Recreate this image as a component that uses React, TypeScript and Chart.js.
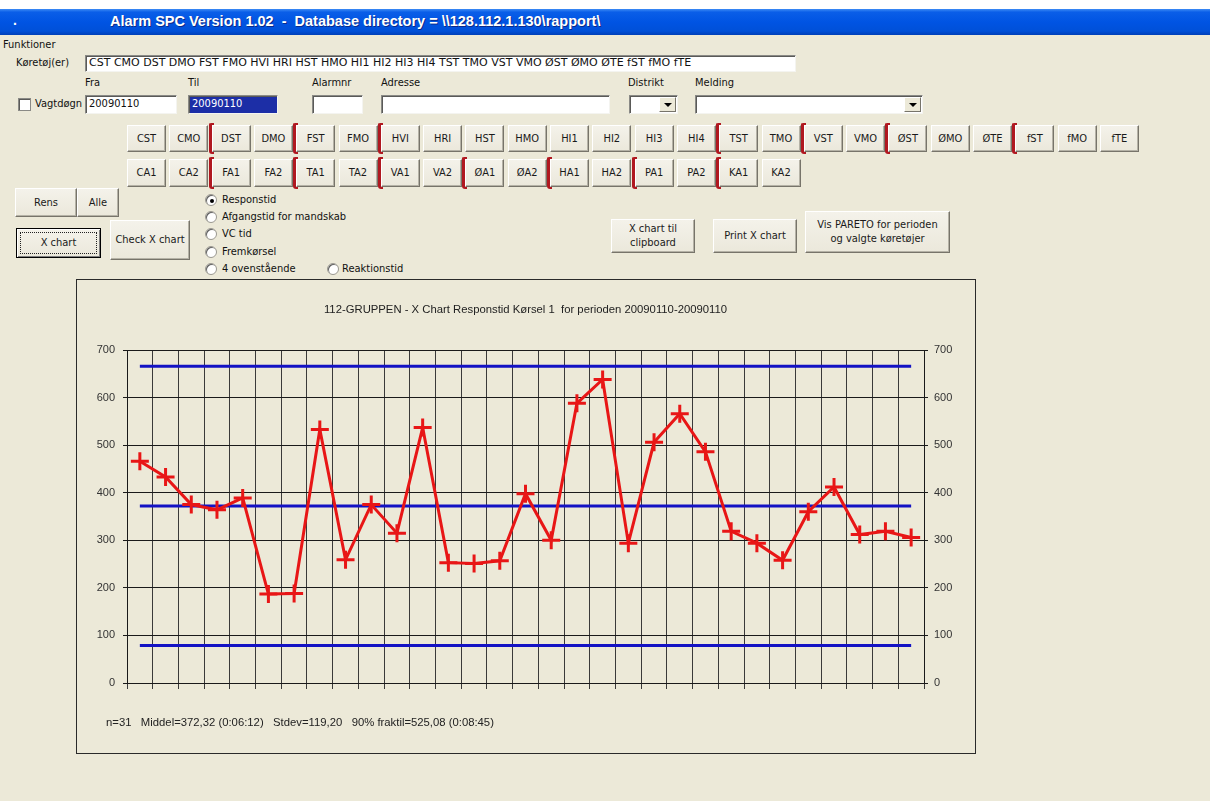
import React, { useEffect, useRef } from "react";
import { Chart, registerables } from "chart.js";

Chart.register(...registerables);

// ---------- chart data ----------
const sampleLabels = [
  "1", "2", "3", "4", "5", "6", "7", "8", "9", "10", "11", "12", "13", "14", "15", "16",
  "17", "18", "19", "20", "21", "22", "23", "24", "25", "26", "27", "28", "29", "30", "31",
];
const responseTimes = [
  466, 433, 375, 364, 389, 187, 188, 533, 259, 375, 315, 537, 253, 251, 257, 398,
  300, 588, 638, 294, 506, 566, 486, 319, 294, 258, 360, 412, 312, 319, 306,
];
const centerLine = 372.32;
const upperLimit = 666;
const lowerLimit = 78.6;
const yMin = 0;
const yMax = 700;
const yStep = 100;

const chartTitle = "112-GRUPPEN - X Chart Responstid Kørsel 1  for perioden 20090110-20090110";
const statsLine = "n=31   Middel=372,32 (0:06:12)   Stdev=119,20   90% fraktil=525,08 (0:08:45)";

// ---------- form content ----------
const windowTitle = "Alarm SPC Version 1.02  -  Database directory = \\\\128.112.1.130\\rapport\\";
const vehicleList = "CST CMO DST DMO FST FMO HVI HRI HST HMO HI1 HI2 HI3 HI4 TST TMO VST VMO ØST ØMO ØTE fST fMO fTE";
const vehicleRow1 = ["CST", "CMO", "DST", "DMO", "FST", "FMO", "HVI", "HRI", "HST", "HMO", "HI1", "HI2", "HI3", "HI4", "TST", "TMO", "VST", "VMO", "ØST", "ØMO", "ØTE", "fST", "fMO", "fTE"];
const bracketRow1 = [2, 4, 6, 14, 16, 18, 21];
const vehicleRow2 = ["CA1", "CA2", "FA1", "FA2", "TA1", "TA2", "VA1", "VA2", "ØA1", "ØA2", "HA1", "HA2", "PA1", "PA2", "KA1", "KA2"];
const bracketRow2 = [2, 4, 6, 8, 10, 12, 14];
const radioLabels = ["Responstid", "Afgangstid for mandskab", "VC tid", "Fremkørsel", "4 ovenstående"];

const BG = "#ECE9D8";
const UI_FONT = '"DejaVu Sans Condensed", "DejaVu Sans", Verdana, sans-serif';
const WIDE_FONT = '"DejaVu Sans", Verdana, sans-serif';
const CHART_FONT = '"Liberation Sans", Arial, sans-serif';

const abs = (x: number, y: number, w: number, h: number): React.CSSProperties => ({
  position: "absolute",
  left: x,
  top: y,
  width: w,
  height: h,
  boxSizing: "border-box",
});

function Btn(props: { x: number; y: number; w: number; h: number; children: React.ReactNode; focused?: boolean }) {
  const { x, y, w, h, children, focused } = props;
  return (
    <div
      style={{
        ...abs(x, y, w, h),
        background: "linear-gradient(#f4f2ea, #ebe8db)",
        borderStyle: "solid",
        borderWidth: 1,
        borderColor: focused ? "#000" : "#fff #77746a #77746a #fff",
        boxShadow: focused ? "inset 1px 1px 0 #fff, inset -1px -1px 0 #808080" : "inset -1px -1px 0 #b5b2a6",
        display: "flex",
        alignItems: "center",
        justifyContent: "center",
        textAlign: "center",
        lineHeight: "14px",
        fontSize: 11,
        color: "#1a1a1a",
      }}
    >
      {focused ? (
        <div style={{ position: "absolute", left: 3, top: 3, right: 3, bottom: 3, border: "1px dotted #222" }} />
      ) : null}
      <span>{children}</span>
    </div>
  );
}

function Bracket(props: { x: number; y: number; h: number }) {
  const { x, y, h } = props;
  return (
    <div
      style={{
        ...abs(x, y, 5, h),
        borderLeft: "3px solid #b01820",
        borderTop: "2px solid #b01820",
        borderBottom: "2px solid #b01820",
        borderRadius: "2px 0 0 3px",
      }}
    />
  );
}

function Sunken(props: { x: number; y: number; w: number; h: number; bg?: string; children?: React.ReactNode; color?: string; font?: string }) {
  const { x, y, w, h, bg, children, color, font } = props;
  return (
    <div
      style={{
        ...abs(x, y, w, h),
        background: bg || "#fff",
        borderStyle: "solid",
        borderWidth: 1,
        borderColor: "#8a8a86 #f4f4f0 #f4f4f0 #8a8a86",
        boxShadow: "inset 1px 1px 0 #5a5a58",
        fontSize: 11,
        fontFamily: font || UI_FONT,
        lineHeight: `${h - 3}px`,
        paddingLeft: 3,
        whiteSpace: "pre",
        overflow: "hidden",
        color: color || "#111",
      }}
    >
      {children}
    </div>
  );
}

function Combo(props: { x: number; y: number; w: number; h: number }) {
  const { x, y, w, h } = props;
  return (
    <div style={abs(x, y, w, h)}>
      <Sunken x={0} y={0} w={w} h={h} />
      <div
        style={{
          ...abs(w - 19, 2, 17, h - 4),
          background: BG,
          borderStyle: "solid",
          borderWidth: 1,
          borderColor: "#fff #77746a #77746a #fff",
        }}
      >
        <div
          style={{
            position: "absolute",
            left: 4,
            top: (h - 4) / 2 - 3,
            width: 0,
            height: 0,
            borderLeft: "4px solid transparent",
            borderRight: "4px solid transparent",
            borderTop: "4px solid #000",
          }}
        />
      </div>
    </div>
  );
}

function Radio(props: { x: number; y: number; label: string; checked?: boolean; labelX?: number }) {
  const { x, y, label, checked, labelX } = props;
  return (
    <>
      <div
        style={{
          ...abs(x, y - 6, 12, 12),
          borderRadius: "50%",
          background: "#fff",
          border: "1px solid #9a9890",
          boxShadow: "inset 1px 1px 0 #606060",
        }}
      >
        {checked ? (
          <div style={{ ...abs(3.5, 3.5, 4, 4), borderRadius: "50%", background: "#000" }} />
        ) : null}
      </div>
      <div style={{ position: "absolute", left: labelX ?? x + 15, top: y - 7, fontSize: 11, lineHeight: "14px", whiteSpace: "pre" }}>
        {label}
      </div>
    </>
  );
}

function Label(props: { x: number; y: number; children: React.ReactNode }) {
  return (
    <div style={{ position: "absolute", left: props.x, top: props.y - 7, fontSize: 11, lineHeight: "14px", whiteSpace: "pre", color: "#111" }}>
      {props.children}
    </div>
  );
}

const textPlugin = {
  id: "xchartTexts",
  afterDraw(chart: any) {
    const { ctx, chartArea } = chart;
    ctx.save();
    ctx.font = `11.3px ${CHART_FONT}`;
    ctx.fillStyle = "#222";
    ctx.textBaseline = "middle";
    ctx.textAlign = "center";
    ctx.fillText(chartTitle, (chartArea.left + chartArea.right) / 2, chartArea.top - 40);
    ctx.textAlign = "left";
    ctx.fillText(statsLine, chartArea.left - 21, chartArea.bottom + 40);
    ctx.restore();
  },
};

function XChart() {
  const ref = useRef<HTMLCanvasElement | null>(null);
  useEffect(() => {
    if (!ref.current) return;
    const first = sampleLabels[0];
    const last = sampleLabels[sampleLabels.length - 1];
    const limitLine = (v: number) => ({
      data: [
        { x: first, y: v },
        { x: last, y: v },
      ],
      borderColor: "#1212c4",
      borderWidth: 3,
      pointRadius: 0,
      fill: false,
      order: 2,
    });
    const chart = new Chart(ref.current, {
      type: "line",
      data: {
        labels: sampleLabels,
        datasets: [
          {
            data: responseTimes,
            borderColor: "#e81616",
            borderWidth: 3,
            pointStyle: "cross",
            pointRadius: 9,
            pointBorderWidth: 3,
            pointBorderColor: "#e81616",
            tension: 0,
            fill: false,
            order: 0,
          } as any,
          limitLine(upperLimit) as any,
          limitLine(centerLine) as any,
          limitLine(lowerLimit) as any,
        ],
      },
      options: {
        animation: false,
        responsive: false,
        maintainAspectRatio: false,
        layout: { padding: { top: 70, left: 0, right: 0, bottom: 0 } },
        plugins: {
          legend: { display: false },
          tooltip: { enabled: false },
          title: { display: false },
        },
        scales: {
          x: {
            type: "category",
            offset: true,
            grid: { offset: true, color: "#3a3a3a", lineWidth: 1, tickLength: 6, drawTicks: true },
            border: { display: true, color: "#1a1a1a" },
            ticks: { display: false },
            afterFit: (s: any) => {
              s.height = 70;
            },
          },
          y: {
            position: "left",
            min: yMin,
            max: yMax,
            ticks: { stepSize: yStep, padding: 8, color: "#333", font: { family: CHART_FONT, size: 11 } },
            grid: { color: "#1a1a1a", lineWidth: 1, tickLength: 4 },
            border: { color: "#1a1a1a" },
            afterFit: (s: any) => {
              s.width = 50;
            },
          },
          y2: {
            position: "right",
            min: yMin,
            max: yMax,
            ticks: { stepSize: yStep, padding: 6, color: "#333", font: { family: CHART_FONT, size: 11 } },
            grid: { drawOnChartArea: false, color: "#1a1a1a", tickLength: 4 },
            border: { color: "#1a1a1a" },
            afterFit: (s: any) => {
              s.width = 51;
            },
          },
        } as any,
      },
      plugins: [textPlugin],
    });
    return () => chart.destroy();
  }, []);
  return <canvas ref={ref} width={898} height={473} style={{ display: "block", width: 898, height: 473 }} />;
}

export default function App() {
  const btnLeft = (i: number) => 127 + i * 42.3;
  return (
    <div
      style={{
        position: "fixed",
        left: 0,
        top: 0,
        width: 1210,
        height: 801,
        overflow: "hidden",
        background: BG,
        fontFamily: UI_FONT,
        fontSize: 11,
        color: "#111",
      }}
    >
      {/* top white strip */}
      <div style={{ ...abs(0, 0, 1210, 9), background: "#fff" }} />
      {/* title bar */}
      <div
        style={{
          ...abs(0, 9, 1210, 26),
          background: "linear-gradient(to bottom, #3d8bf5 0%, #0a5ee8 12%, #0054e3 50%, #0050d8 85%, #003fb8 100%)",
        }}
      >
        <div style={{ position: "absolute", left: 13, top: 3, color: "#fff", fontWeight: "bold", fontSize: 14, fontFamily: CHART_FONT }}>.</div>
        <div
          style={{
            position: "absolute",
            left: 110,
            top: 4,
            color: "#fff",
            fontWeight: "bold",
            fontSize: 14.5,
            fontFamily: CHART_FONT,
            whiteSpace: "pre",
            textShadow: "1px 1px 0 #0a2a8a",
          }}
        >
          {windowTitle}
        </div>
      </div>

      <Label x={3} y={45}>Funktioner</Label>
      <Label x={16} y={63}>Køretøj(er)</Label>
      <Sunken x={85} y={55} w={711} h={17} font={WIDE_FONT}>{vehicleList}</Sunken>

      <Label x={85} y={83}>Fra</Label>
      <Label x={188} y={83}>Til</Label>
      <Label x={312} y={83}>Alarmnr</Label>
      <Label x={381} y={83}>Adresse</Label>
      <Label x={628} y={83}>Distrikt</Label>
      <Label x={695} y={83}>Melding</Label>

      {/* checkbox */}
      <div style={{ ...abs(18, 98, 13, 13), background: "#fff", border: "1px solid #8a8a86", boxShadow: "inset 1px 1px 0 #5a5a58" }} />
      <Label x={35} y={104}>Vagtdøgn</Label>
      <Sunken x={85} y={95} w={92} h={19}>20090110</Sunken>
      <Sunken x={188} y={95} w={90} h={19} bg="#1c2ea6" color="#fff">20090110</Sunken>
      <Sunken x={312} y={95} w={51} h={19} />
      <Sunken x={381} y={95} w={229} h={19} />
      <Combo x={629} y={95} w={49} h={19} />
      <Combo x={695} y={95} w={228} h={19} />

      {/* vehicle buttons */}
      {vehicleRow1.map((v, i) => (
        <Btn key={"r1" + v} x={btnLeft(i)} y={125} w={39} h={27}>{v}</Btn>
      ))}
      {bracketRow1.map((i) => (
        <Bracket key={"b1" + i} x={btnLeft(i) - 3} y={123} h={31} />
      ))}
      {vehicleRow2.map((v, i) => (
        <Btn key={"r2" + v} x={btnLeft(i)} y={159} w={39} h={28}>{v}</Btn>
      ))}
      {bracketRow2.map((i) => (
        <Bracket key={"b2" + i} x={btnLeft(i) - 3} y={157} h={32} />
      ))}

      <Btn x={15} y={188} w={62} h={29}>Rens</Btn>
      <Btn x={77} y={188} w={42} h={29}>Alle</Btn>
      <Btn x={16} y={228} w={85} h={30} focused>X chart</Btn>
      <Btn x={110} y={220} w={80} h={40}>Check X chart</Btn>

      {radioLabels.map((r, i) => (
        <Radio key={r} x={205} y={200 + i * 17.2} label={r} checked={i === 0} labelX={222} />
      ))}
      <Radio x={327} y={269} label="Reaktionstid" labelX={342} />

      <Btn x={611} y={219} w={84} h={34}>
        X chart til
        <br />
        clipboard
      </Btn>
      <Btn x={713} y={219} w={84} h={34}>Print X chart</Btn>
      <Btn x={805} y={211} w={145} h={42}>
        Vis PARETO for perioden
        <br />
        og valgte køretøjer
      </Btn>

      {/* chart frame */}
      <div style={{ ...abs(76, 279, 900, 475), border: "1px solid #2a2a2a", background: BG }}>
        <XChart />
      </div>
    </div>
  );
}
